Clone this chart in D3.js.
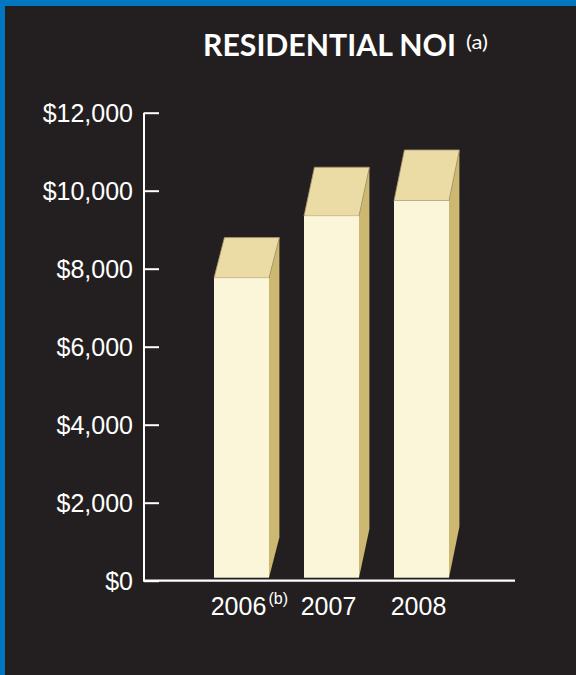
<!DOCTYPE html>
<html>
<head>
<meta charset="utf-8">
<script src="https://cdn.jsdelivr.net/npm/d3@7"></script>
<style>
  html, body { margin: 0; padding: 0; background: #231f20; }
  svg { display: block; }
</style>
</head>
<body>
<svg id="chart" width="576" height="675"></svg>
<script>
// ---- data ----
const years = ["2006", "2007", "2008"];
const yearNotes = ["(b)", "", ""];
const noi = [7760, 9350, 9740];
const yTicks = [0, 2000, 4000, 6000, 8000, 10000, 12000];
const title = "RESIDENTIAL NOI";
const titleNote = "(a)";

// ---- layout ----
const W = 576, H = 675;
const svg = d3.select("#chart");
const bg = "#231f20", blue = "#0077c0";
const frontCol = "#fbf5da", topCol = "#ebdca5", sideCol = "#cdb872";
const font = "'Liberation Sans', Arial, sans-serif";
const titleFont = "Lato, 'Open Sans', sans-serif";

svg.append("rect").attr("width", W).attr("height", H).attr("fill", blue);
svg.append("rect").attr("x", 5).attr("y", 6).attr("width", W - 5).attr("height", H - 6).attr("fill", bg);

const y = d3.scaleLinear().domain([0, 12000]).range([580.7, 112.7]);
const x = d3.scaleBand().domain(years).range([169, 439 + 55]).paddingInner(0.389).paddingOuter(0.5);

// title
svg.append("text")
  .attr("x", 203).attr("y", 55.5)
  .attr("fill", "#ffffff")
  .attr("font-family", titleFont)
  .attr("font-weight", 700)
  .attr("font-size", 30.5)
  .attr("textLength", 253).attr("lengthAdjust", "spacingAndGlyphs")
  .text(title);
svg.append("text")
  .attr("x", 466).attr("y", 49)
  .attr("fill", "#ffffff")
  .attr("font-family", titleFont)
  .attr("font-size", 19)
  .attr("textLength", 22).attr("lengthAdjust", "spacingAndGlyphs")
  .text(titleNote);

// bars (3D)
const base = y(0) - 3;
const dx = 10.4;
const data = years.map((yr, i) => ({ yr, v: noi[i], note: yearNotes[i] }));
const bars = svg.append("g");
data.forEach(d => {
  const x0 = x(d.yr), x1 = x0 + x.bandwidth();
  const top = y(d.v);
  const dy = 0.135 * (base - top);
  const g = bars.append("g");
  g.append("path")
    .attr("d", `M${x1},${top} L${x1 + dx},${top - dy} L${x1 + dx},${base - dy} L${x1},${base} Z`)
    .attr("fill", sideCol);
  g.append("path")
    .attr("d", `M${x0},${top} L${x0 + dx},${top - dy} L${x1 + dx},${top - dy} L${x1},${top} Z`)
    .attr("fill", topCol)
    .attr("stroke", "#a8976d").attr("stroke-width", 0.8).attr("stroke-linejoin", "round");
  g.append("rect")
    .attr("x", x0).attr("y", top)
    .attr("width", x.bandwidth()).attr("height", base - top)
    .attr("fill", frontCol);
});

// y axis
const yAxis = d3.axisRight(y).tickValues(yTicks).tickSize(15).tickPadding(0)
  .tickFormat(d => "$" + d3.format(",")(d));
const ya = svg.append("g").attr("transform", "translate(144,0)").call(yAxis);
ya.select(".domain").attr("stroke", "#ffffff").attr("stroke-width", 2)
  .attr("d", `M0,${y(12000)}V${y(0)}`);
ya.selectAll(".tick line").attr("stroke", "#ffffff").attr("stroke-width", 2);
ya.selectAll(".tick text")
  .attr("x", -11).attr("dy", "0.35em")
  .attr("text-anchor", "end")
  .attr("fill", "#ffffff")
  .attr("font-family", font).attr("font-size", 25);

// x axis line
svg.append("line")
  .attr("x1", 143).attr("x2", 515)
  .attr("y1", y(0)).attr("y2", y(0))
  .attr("stroke", "#ffffff").attr("stroke-width", 2.2);

// x labels
const xl = svg.append("g");
data.forEach(d => {
  const cx = x(d.yr) + x.bandwidth() / 2;
  xl.append("text")
    .attr("x", cx - 3).attr("y", 615)
    .attr("text-anchor", "middle")
    .attr("fill", "#ffffff")
    .attr("font-family", font).attr("font-size", 25)
    .text(d.yr);
  if (d.note) {
    xl.append("text")
      .attr("x", cx + 27).attr("y", 604)
      .attr("fill", "#ffffff")
      .attr("font-family", font).attr("font-size", 16)
      .text(d.note);
  }
});
</script>
</body>
</html>
